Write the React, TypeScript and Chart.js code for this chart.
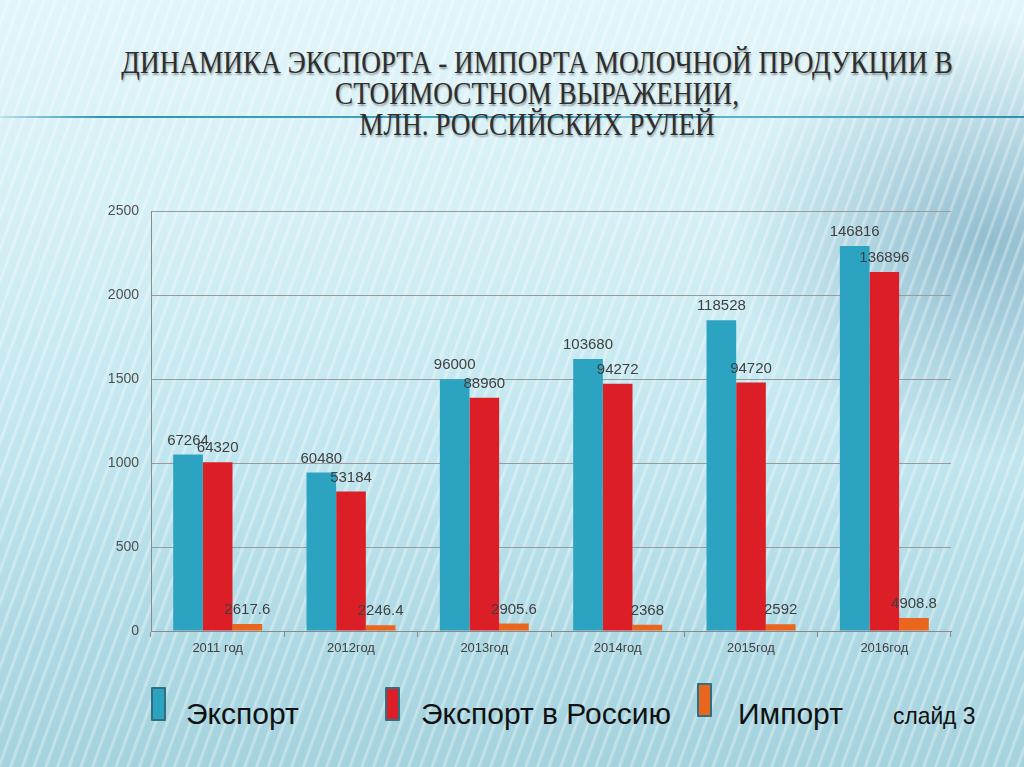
import React, { useEffect, useRef } from "react";
import { Chart, registerables } from "chart.js";

Chart.register(...registerables);

const categories = ["2011 год", "2012год", "2013год", "2014год", "2015год", "2016год"];
const exportValues = [1051, 945, 1500, 1620, 1852, 2294];
const russiaValues = [1005, 831, 1390, 1473, 1480, 2139];
const importValues = [41, 35, 45, 37, 40.5, 77];
const exportLabels = ["67264", "60480", "96000", "103680", "118528", "146816"];
const russiaLabels = ["64320", "53184", "88960", "94272", "94720", "136896"];
const importLabels = ["2617.6", "2246.4", "2905.6", "2368", "2592", "4908.8"];
const seriesNames = ["Экспорт", "Экспорт в Россию", "Импорт"];
const seriesColors = ["#2CA3C1", "#DC1F27", "#EA661F"];
const titleLines = [
  "ДИНАМИКА ЭКСПОРТА - ИМПОРТА МОЛОЧНОЙ ПРОДУКЦИИ В",
  "СТОИМОСТНОМ ВЫРАЖЕНИИ,",
  "МЛН. РОССИЙСКИХ РУЛЕЙ",
];

const labelSets = [exportLabels, russiaLabels, importLabels];

const valueLabelPlugin = {
  id: "valueLabels",
  afterDatasetsDraw(chart: any) {
    const ctx = chart.ctx;
    ctx.save();
    ctx.font = "15px 'Liberation Sans', Arial, sans-serif";
    ctx.fillStyle = "#404040";
    ctx.textAlign = "center";
    ctx.textBaseline = "middle";
    chart.data.datasets.forEach((ds: any, di: number) => {
      const meta = chart.getDatasetMeta(di);
      meta.data.forEach((el: any, i: number) => {
        ctx.fillText(labelSets[di][i], el.x, el.y - 14);
      });
    });
    ctx.restore();
  },
};

export default function App() {
  const canvasRef = useRef<HTMLCanvasElement | null>(null);

  useEffect(() => {
    document.body.style.margin = "0";
    const canvas = canvasRef.current;
    if (!canvas) return;
    const chart = new Chart(canvas, {
      type: "bar",
      data: {
        labels: categories,
        datasets: [
          { label: seriesNames[0], data: exportValues, backgroundColor: seriesColors[0] },
          { label: seriesNames[1], data: russiaValues, backgroundColor: seriesColors[1] },
          { label: seriesNames[2], data: importValues, backgroundColor: seriesColors[2] },
        ],
      },
      options: {
        animation: false,
        responsive: false,
        maintainAspectRatio: false,
        datasets: { bar: { categoryPercentage: 0.667, barPercentage: 1 } },
        layout: { padding: { top: 11, right: 9, left: 0, bottom: 0 } },
        plugins: {
          legend: { display: false },
          tooltip: { enabled: false },
          title: { display: false },
        },
        scales: {
          x: {
            offset: true,
            grid: { drawOnChartArea: false, tickLength: 6, color: "#8a8a8a", offset: true },
            border: { color: "#8a8a8a" },
            ticks: {
              color: "#404040",
              font: { family: "'Liberation Sans', Arial, sans-serif", size: 13 },
              padding: 4,
            },
            afterFit: (s: any) => {
              s.height = 30;
            },
          },
          y: {
            min: 0,
            max: 2500,
            ticks: {
              stepSize: 500,
              color: "#505050",
              font: { family: "'Liberation Sans', Arial, sans-serif", size: 14 },
              padding: 12,
              callback: (v: any) => String(v),
            },
            grid: { color: "#9a9a9a", drawTicks: false },
            border: { color: "#8a8a8a" },
            afterFit: (s: any) => {
              s.width = 61;
            },
          },
        },
      },
      plugins: [valueLabelPlugin],
    });
    return () => chart.destroy();
  }, []);

  const legendItems = [
    { mx: 151, my: 687, tx: 186 },
    { mx: 385, my: 687, tx: 421 },
    { mx: 697, my: 683, tx: 738 },
  ];

  return (
    <div
      style={{
        position: "fixed",
        left: 0,
        top: 0,
        width: 1024,
        height: 767,
        overflow: "hidden",
        background:
          "radial-gradient(ellipse 260px 220px at 990px 240px, rgba(80,140,170,0.5), rgba(80,140,170,0) 100%)," +
          "linear-gradient(180deg, #e2f5f9 0%, #d3eff5 30%, #c0e5ee 60%, #acd8e3 85%, #a4d2dd 100%)",
        fontFamily: "'Liberation Sans', Arial, sans-serif",
      }}
    >
      <div
        style={{
          position: "absolute",
          inset: 0,
          background:
            "repeating-linear-gradient(110deg, rgba(255,255,255,0) 0px, rgba(255,255,255,0) 6px, rgba(255,255,255,0.4) 8px, rgba(255,255,255,0) 11px)",
        }}
      />
      <div
        style={{
          position: "absolute",
          left: 0,
          top: 116,
          width: 1024,
          height: 2,
          background: "linear-gradient(90deg, rgba(40,150,180,0.2) 0%, #2a94b2 10%, #5cb4cc 70%, #2a94b2 100%)",
        }}
      />
      {titleLines.map((t, i) => (
        <div
          key={i}
          style={{
            position: "absolute",
            left: 0,
            width: 1074,
            top: 46 + i * 31,
            textAlign: "center",
            fontFamily: "'Liberation Serif', 'Times New Roman', serif",
            fontSize: 31,
            lineHeight: "34px",
            color: "#2e2e2e",
            textShadow: "1px 2px 2px rgba(0,0,0,0.35)",
            transform: "scaleX(0.88)",
            transformOrigin: "537px 0",
            whiteSpace: "nowrap",
          }}
        >
          {t}
        </div>
      ))}
      <canvas
        ref={canvasRef}
        width={870}
        height={470}
        style={{ position: "absolute", left: 90, top: 191, width: 870, height: 470 }}
      />
      {legendItems.map((it, i) => (
        <React.Fragment key={i}>
          <div
            style={{
              position: "absolute",
              left: it.mx,
              top: it.my,
              width: 11,
              height: 30,
              background: seriesColors[i],
              border: "2px solid #2f6f80",
              borderRadius: 1,
            }}
          />
          <div
            style={{
              position: "absolute",
              left: it.tx,
              top: 696,
              fontSize: 30,
              lineHeight: "36px",
              color: "#111",
              whiteSpace: "nowrap",
            }}
          >
            {seriesNames[i]}
          </div>
        </React.Fragment>
      ))}
      <div
        style={{
          position: "absolute",
          left: 893,
          top: 702,
          fontSize: 24,
          lineHeight: "28px",
          color: "#111",
          whiteSpace: "nowrap",
          transform: "scaleX(0.95)",
          transformOrigin: "0 0",
        }}
      >
        слайд 3
      </div>
    </div>
  );
}
